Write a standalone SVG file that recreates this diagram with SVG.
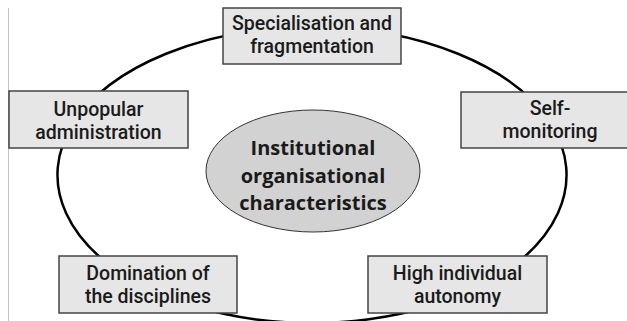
<svg xmlns="http://www.w3.org/2000/svg" width="627" height="321" viewBox="0 0 627 321">
<style>
.box rect{fill:#e6e6e6;stroke:#444;stroke-width:1.5}
.box text{font-family:Roboto,"Liberation Sans",sans-serif;font-weight:500;font-size:19.5px;fill:#1a1a1a;text-anchor:middle}
.conn path{fill:none;stroke:#000;stroke-width:2.5}
.center ellipse{fill:#d2d2d2;stroke:#333;stroke-width:1}
.center text{font-family:"Open Sans","Liberation Sans",sans-serif;font-weight:700;font-size:20px;fill:#1a1a1a;text-anchor:middle}
</style>
<rect x="0" y="0" width="627" height="321" fill="#fff"/>
<line x1="8.5" y1="8" x2="8.5" y2="321" stroke="#c4c4c4" stroke-width="1"/>
<g id="connectors" class="conn">
<path d="M312,27 A254.5,148 0 0 1 551.2,124.4"/>
<path d="M551.2,124.4 A254.5,148 0 0 1 475.6,288.4"/>
<path d="M475.6,288.4 A254.5,148 0 0 1 148.4,288.4"/>
<path d="M148.4,288.4 A254.5,148 0 0 1 72.8,124.4"/>
<path d="M72.8,124.4 A254.5,148 0 0 1 312,27"/>
</g>
<g id="center" class="center">
<ellipse cx="313" cy="171" rx="107" ry="61"/>
<text x="313" y="155">Institutional</text>
<text x="313" y="183">organisational</text>
<text x="313" y="210">characteristics</text>
</g>
<g id="specialisation" class="box">
<rect x="223" y="8" width="178" height="56"/>
<text x="312" y="30">Specialisation and</text>
<text x="312" y="53">fragmentation</text>
</g>
<g id="unpopular" class="box">
<rect x="9" y="91" width="179" height="57"/>
<text x="98.5" y="116">Unpopular</text>
<text x="98.5" y="139">administration</text>
</g>
<g id="self-monitoring" class="box">
<rect x="461" y="92" width="179" height="56"/>
<text x="550" y="115">Self-</text>
<text x="550" y="138">monitoring</text>
</g>
<g id="domination" class="box">
<rect x="59" y="256" width="178" height="57"/>
<text x="148" y="280">Domination of</text>
<text x="148" y="303">the disciplines</text>
</g>
<g id="autonomy" class="box">
<rect x="368" y="256" width="179" height="57"/>
<text x="457.5" y="280">High individual</text>
<text x="457.5" y="303">autonomy</text>
</g>
</svg>
